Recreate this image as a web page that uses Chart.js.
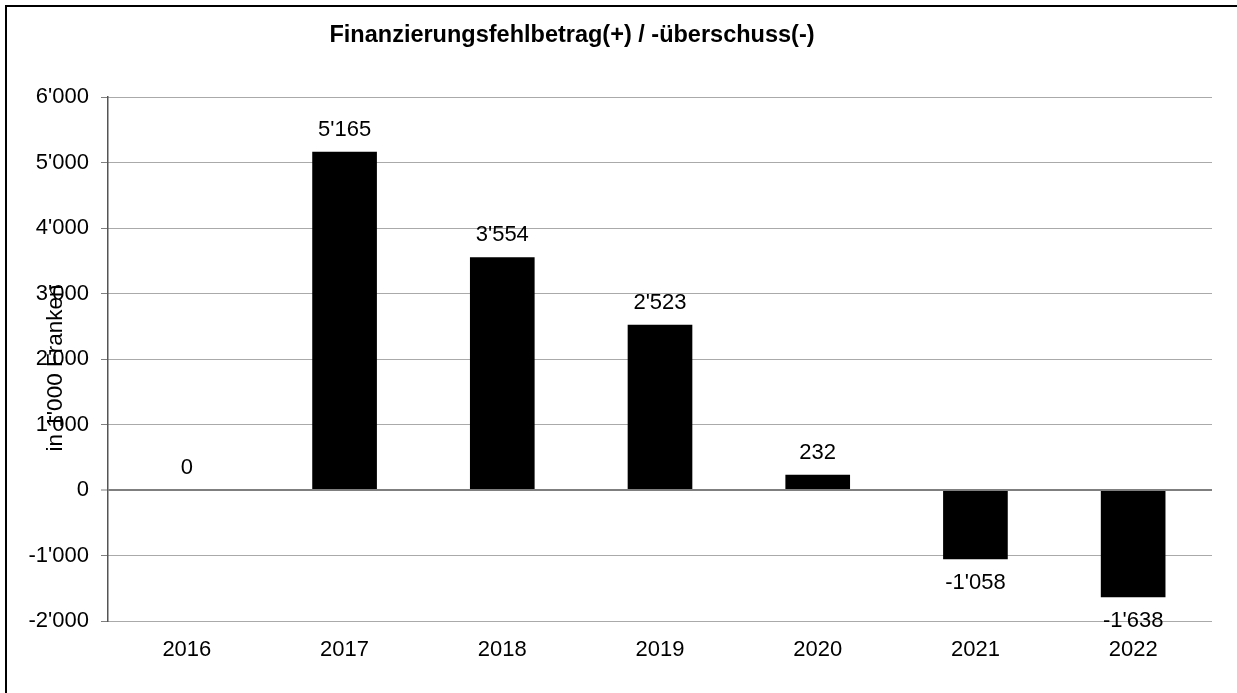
<!DOCTYPE html>
<html>
<head>
<meta charset="utf-8">
<script src="https://cdn.jsdelivr.net/npm/chart.js@4"></script>
<style>
  html, body { margin: 0; padding: 0; background: #fff; }
  #wrap { position: relative; width: 1237px; height: 693px; }
</style>
</head>
<body>
<div id="wrap"><canvas id="chart" width="1237" height="693"></canvas></div>
<script>
// --- Data ---
const years = ['2016', '2017', '2018', '2019', '2020', '2021', '2022'];
const values = [0, 5165, 3554, 2523, 232, -1058, -1638];
const yTicks = [-2000, -1000, 0, 1000, 2000, 3000, 4000, 5000, 6000];
const chartTitle = 'Finanzierungsfehlbetrag(+) / -überschuss(-)';
const yTitle = "in 1'000 Franken";

const FONT = "'Liberation Sans', Arial, sans-serif";
Chart.defaults.font.family = FONT;
Chart.defaults.color = '#000';

// thousands with apostrophe, e.g. 5'165
function fmt(v) {
    const s = Math.abs(Math.round(v)).toString().replace(/\B(?=(\d{3})+(?!\d))/g, "'");
    return (v < 0 ? '-' : '') + s;
}

// --- Plugins: frame, title, y title, value labels ---
const decorations = {
    id: 'decorations',
    afterDraw(chart) {
        const ctx = chart.ctx;
        ctx.save();
        // outer frame (only top and left visible)
        ctx.fillStyle = '#000';
        ctx.fillRect(5, 5, 1232, 2);
        ctx.fillRect(5, 5, 2, 688);

        // title
        ctx.font = 'bold 23.5px ' + FONT;
        ctx.textAlign = 'center';
        ctx.textBaseline = 'middle';
        ctx.fillText(chartTitle, 572, 36);

        // y axis title, overlaps tick labels like the original
        ctx.save();
        ctx.translate(56, 368);
        ctx.rotate(-Math.PI / 2);
        ctx.font = '22.5px ' + FONT;
        ctx.fillText(yTitle, 0, 0);
        ctx.restore();

        // value labels
        const meta = chart.getDatasetMeta(0);
        ctx.font = '22px ' + FONT;
        meta.data.forEach((bar, i) => {
            const v = values[i];
            const y = v >= 0 ? bar.y - 22 : bar.y + 24;
            ctx.fillText(fmt(v), bar.x, y);
        });
        ctx.restore();
    }
};

const ctx = document.getElementById('chart').getContext('2d');
const chart = new Chart(ctx, {
    type: 'bar',
    data: {
        labels: years,
        datasets: [{
            data: values,
            backgroundColor: '#000',
            borderWidth: 0,
            barPercentage: 0.41,
            categoryPercentage: 1
        }]
    },
    options: {
        responsive: false,
        animation: false,
        devicePixelRatio: 1,
        layout: { padding: { left: 0, right: 25, top: 97, bottom: 0 } },
        plugins: {
            legend: { display: false },
            tooltip: { enabled: false },
            title: { display: false }
        },
        scales: {
            x: {
                grid: { display: false },
                border: { display: false },
                ticks: { font: { size: 22 }, color: '#000', padding: 8, maxRotation: 0 },
                afterFit(scale) { scale.height = 72; }
            },
            y: {
                min: -2000,
                max: 6000,
                afterBuildTicks(scale) { scale.ticks = yTicks.map(v => ({ value: v })); },
                afterFit(scale) { scale.width = 108; },
                ticks: {
                    font: { size: 22 },
                    color: '#000',
                    padding: 12,
                    callback: v => fmt(v)
                },
                grid: {
                    color: c => (c.tick && c.tick.value === 0) ? '#7f7f7f' : '#555',
                    lineWidth: c => (c.tick && c.tick.value === 0) ? 2 : 1,
                    tickLength: 7,
                    tickColor: '#7f7f7f',
                    tickWidth: 1,
                    tickBorderDash: []
                },
                border: {
                    display: true,
                    color: '#555',
                    width: 1.5,
                    dash: c => (c.tick && c.tick.value !== 0) ? [1, 1] : []
                }
            }
        }
    },
    plugins: [decorations]
});
</script>
</body>
</html>
